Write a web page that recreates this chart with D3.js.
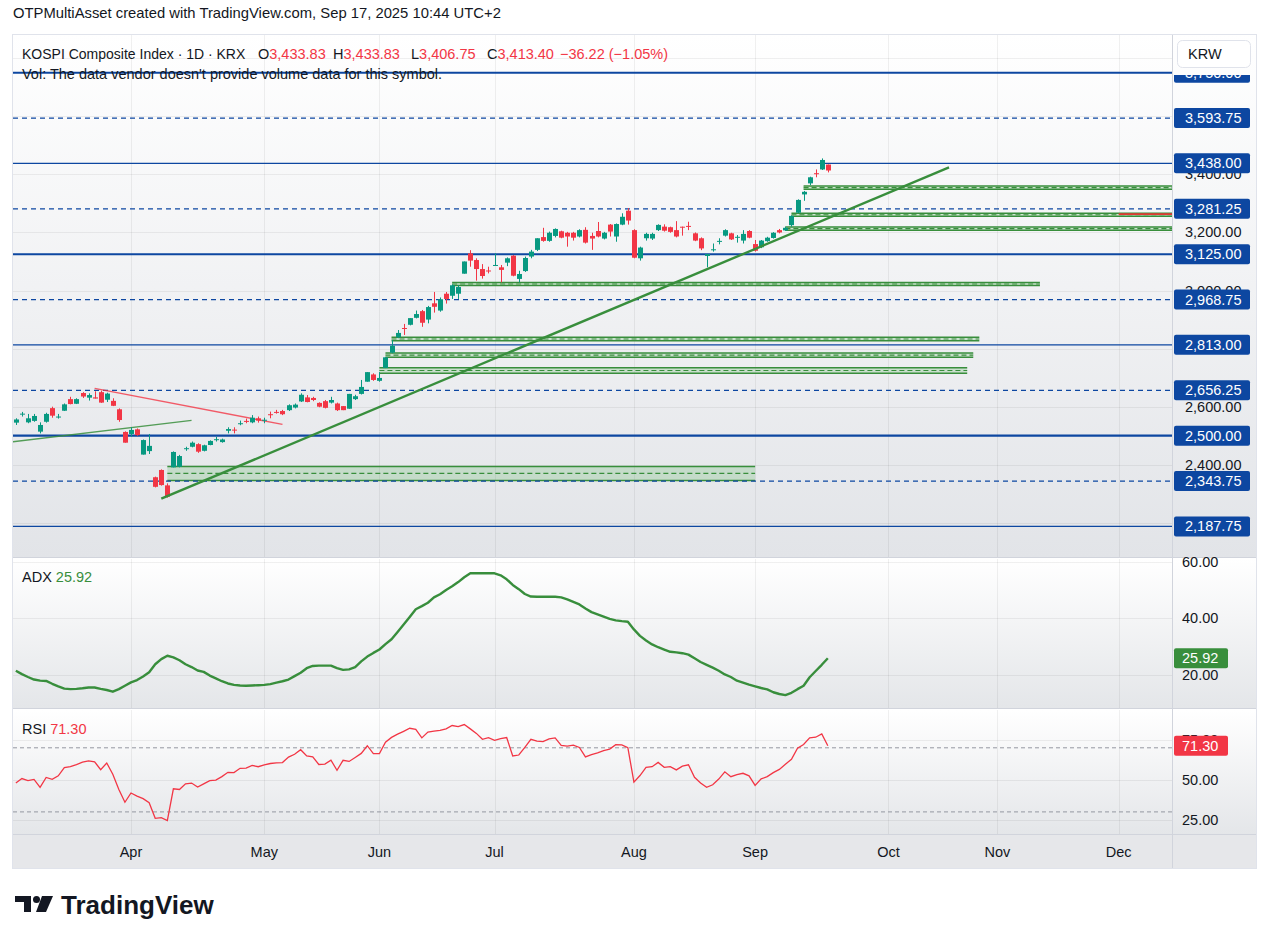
<!DOCTYPE html>
<html>
<head>
<meta charset="utf-8">
<script src="https://cdn.jsdelivr.net/npm/d3@7"></script>
<style>
  body { margin: 0; background: #fff; }
  svg { display: block; font-family: "Liberation Sans", Arial, sans-serif; }
</style>
</head>
<body>
<svg id="chart" width="1268" height="944"></svg>
<script>
// KOSPI daily bars, Mar 2025 -> Sep 17 2025 (bar index 0..134)
const opens = [2545,2575,2546,2551,2514,2548,2595,2565,2586,2626,2610,2647,2631,2632,2650,2624,2620,2591,2513,2506,
  2522,2435,2447,2357,2382,2329,2391,2393,2455,2462,2471,2448,2468,2486,2478,2517,2521,2541,2551,2546,
  2560,2553,2574,2582,2585,2588,2597,2618,2632,2630,2613,2619,2614,2611,2602,2593,2626,2644,2686,2711,
  2689,2733,2786,2839,2871,2882,2906,2929,2900,2956,2931,2989,2982,2989,3058,3128,3105,3074,3069,3086,
  3080,3096,3120,3040,3067,3117,3140,3184,3171,3188,3204,3199,3199,3186,3209,3188,3205,3179,3227,3186,
  3227,3275,3208,3111,3180,3179,3208,3220,3218,3208,3219.8,3222.5,3197,3180,3119,3141.5,3170,3189,3197,3183,
  3172,3205,3160,3149,3170,3181,3208,3207,3225,3268,3331,3369,3404,3417,3433.83];
const highs = [2560,2582,2575,2575,2546,2579,2600,2575,2611,2634,2629,2650,2646,2653,2655,2648,2629,2594,2515,2529,
  2525,2487,2506,2359,2384,2336,2446,2434,2462,2480,2474,2469,2484,2496,2490,2529,2529,2552,2559,2571,
  2566,2562,2583,2589,2589,2608,2611,2646,2640,2634,2615,2623,2634,2614,2602,2644,2641,2692,2719,2715,
  2719,2770,2829,2864,2885,2905,2931,2933,2947,2995,2976,2995,3021,3018,3100,3139,3111,3091,3082,3128,
  3088,3114,3122,3068,3117,3140,3180,3216,3203,3214,3206,3202,3202,3211,3218,3199,3236,3202,3229,3231,
  3266,3284,3211,3151,3199,3199,3228,3228,3220,3239,3220,3237,3200,3183,3126,3162,3180,3211,3199,3191,
  3208,3208,3174,3174,3185,3201,3212,3220,3259,3314,3343,3392,3417,3455,3433.83];
const lows = [2537,2566,2543,2548,2508,2545,2562,2559,2585,2608,2609,2630,2621,2628,2613,2616,2602,2548,2476,2497,
  2500,2435,2437,2322,2328,2287,2391,2391,2448,2460,2441,2446,2467,2480,2476,2508,2508,2536,2543,2543,
  2545,2543,2560,2576,2571,2585,2594,2616,2615,2619,2598,2594,2611,2585,2588,2593,2623,2642,2686,2689,
  2686,2733,2784,2836,2847,2880,2904,2875,2887,2924,2927,2955,2971,2971,3058,3082,3034,3041,3059,3086,
  3028,3084,3049,3028,3064,3111,3136,3168,3168,3183,3180,3151,3172,3183,3162,3140,3183,3176,3186,3168,
  3225,3227,3111,3103,3172,3174,3205,3203,3199,3183,3189,3208,3170,3139,3080,3134,3159,3186,3174,3165,
  3162,3180,3134,3146,3168,3179,3197,3205,3220,3266,3309,3363,3390,3415,3406.75];
const closes = [2556,2576,2560,2568,2537,2575,2569,2566,2608,2609,2626,2635,2640,2628,2614,2645,2603,2554,2476,2520,
  2502,2485,2465,2324,2330,2290,2444,2430,2457,2476,2445,2467,2482,2488,2487,2523,2519,2543,2549,2562,
  2552,2555,2572,2580,2574,2605,2607,2641,2616,2623,2600,2596,2623,2588,2588,2644,2636,2668,2719,2692,
  2699,2770,2810,2854,2868,2905,2919,2889,2943,2944,2970,2971,3018,3012,3100,3103,3074,3050,3067,3088,
  3071,3111,3051,3057,3112,3134,3180,3171,3199,3212,3182,3186,3182,3208,3165,3179,3186,3199,3203,3229,
  3254,3241,3113,3148,3195,3195,3226,3206,3202,3186,3219,3221.5,3172,3145,3125.5,3142,3171,3208,3176,3185,
  3195,3182,3137,3172,3182,3199,3200,3216,3257,3312,3340,3390,3403,3449.62,3413.40];

// ADX(14) and RSI(14), one value per bar
const adxValues = [21.5,20.3,19.3,18.4,18.0,17.9,16.9,16.0,15.2,15.0,15.1,15.3,15.6,15.6,15.1,14.7,14.1,15.0,16.2,17.4,
  18.2,19.5,21.0,23.8,25.6,26.8,26.2,25.2,23.8,22.8,21.6,21.1,19.8,18.8,17.8,17.0,16.5,16.3,16.2,16.3,
  16.4,16.5,16.8,17.3,17.8,18.4,19.6,20.8,22.4,23.2,23.3,23.3,23.3,22.4,21.8,22.0,22.8,24.8,26.5,27.8,
  29.0,30.9,32.6,35.2,37.8,40.5,43.2,44.3,45.5,47.4,48.5,50.0,51.3,52.8,54.5,55.9,55.9,55.9,55.9,55.9,
  55.2,53.8,51.8,50.3,48.6,47.7,47.6,47.6,47.6,47.6,47.4,46.7,45.8,44.9,43.5,42.2,41.4,40.6,39.8,39.3,
  39.0,38.8,36.1,33.8,32.2,30.8,29.8,29.0,28.2,28.0,27.7,27.2,25.9,24.6,23.6,22.6,21.5,20.2,19.3,18.0,
  17.3,16.6,16.0,15.4,14.9,13.9,13.3,12.9,13.7,15.0,16.2,19.2,21.4,23.6,25.92];
const rsiValues = [48.0,50.8,49.5,50.3,45.3,51.5,50.3,52.5,57.6,58.2,59.5,61.0,61.8,61.3,56.3,60.5,53.5,44.0,36.0,41.8,
  39.8,38.3,35.7,26.0,26.4,24.6,44.4,44.0,47.5,48.0,45.5,47.5,49.5,49.8,52.0,54.7,54.5,57.2,57.3,59.0,
  58.2,59.3,60.2,60.6,60.8,64.2,66.0,68.8,64.9,64.3,59.6,59.8,62.3,56.0,62.2,61.5,64.0,66.5,71.3,66.4,
  66.4,73.5,76.5,78.5,80.3,82.2,81.5,76.2,79.8,80.4,80.9,81.8,83.9,83.2,84.5,81.8,79.0,75.3,76.3,74.7,
  75.8,76.4,64.9,65.5,70.3,75.3,74.2,73.9,75.6,76.2,71.5,71.1,71.7,70.2,64.3,65.8,66.9,68.3,69.2,72.0,
  71.8,70.1,48.6,52.7,57.8,58.2,60.9,57.8,58.2,56.2,58.5,59.4,51.6,48.0,45.3,46.9,50.5,55.0,52.0,53.3,
  54.1,52.5,46.5,50.6,52.0,54.5,56.5,59.8,62.8,69.7,72.1,76.2,76.6,78.7,71.30];

// time axis
const monthLabels = ["Apr", "May", "Jun", "Jul", "Aug", "Sep", "Oct", "Nov", "Dec"];
const monthIndex = [19, 41, 60, 79, 102, 122, 144, 162, 182];

// price axis
const priceTicks = [2200, 2400, 2600, 2800, 3000, 3200, 3400, 3600, 3800];
const adxTicks = [20, 40, 60];
const rsiTicks = [25, 50, 75];
const rsiBands = [70, 30];

// drawn horizontal levels
const majorLevels = [3750, 3125, 2500];
const minorLevels = [3438, 2813, 2187.75];
const midLevels = [3593.75, 3281.25, 2968.75, 2656.25, 2343.75];

// support zones: start bar, end bar, low, high
const zoneStart = [25, 60, 61, 62, 72, 127, 128, 130];
const zoneEnd = [122, 157, 158, 159, 169, 191, 191, 191];
const zoneLow = [2346, 2715, 2770, 2827, 3017, 3208, 3256, 3349];
const zoneHigh = [2394, 2734, 2785, 2839, 3028, 3219, 3266, 3360];
const zoneMid = [2370, null, null, null, null, null, null, null];

// trend lines: [bar0, price0, bar1, price1]
const greenTrend = [24, 2283, 154, 3424];
const greenThin = [-0.5, 2479, 29, 2553];
const redTrend = [13, 2663, 44, 2539];
const redMark = [182, 3263, 191, 3263];

const lastAdx = 25.92, lastRsi = 71.30;

// ---------------------------------------------------------------
const svg = d3.select("#chart");
const L = 13, R = 1172, AX = 1256;
const P = { top: 35, bottom: 557 }, A = { top: 559, bottom: 708 }, S = { top: 710, bottom: 834 };
const T = { top: 834, bottom: 868 };

const green = "#089981", red = "#f23645", lvl = "#0d47a1", zoneCol = "#388e3c";
const txt = "#131722";

const x = d3.scaleLinear().domain([-0.47, 190.8]).range([L, R]);
const y = d3.scaleLinear().domain([2082.3, 3880]).range([P.bottom, P.top]);
const yAdx = d3.scaleLinear().domain([8.35, 60.95]).range([A.bottom, A.top]);
const yRsi = d3.scaleLinear().domain([16.2, 93.6]).range([S.bottom, S.top]);

const defs = svg.append("defs");
function grad(id, c0, c1) {
  const g = defs.append("linearGradient").attr("id", id).attr("x1", 0).attr("x2", 0).attr("y1", 0).attr("y2", 1);
  g.append("stop").attr("offset", 0).attr("stop-color", c0);
  g.append("stop").attr("offset", 1).attr("stop-color", c1);
}
grad("gP", "#ffffff", "#e2e4e8");
grad("gA", "#ffffff", "#e4e6e9");
grad("gS", "#ffffff", "#e4e6e9");
function clip(id, y0, y1) {
  defs.append("clipPath").attr("id", id).append("rect")
    .attr("x", L).attr("y", y0).attr("width", R - L).attr("height", y1 - y0);
}
clip("cP", P.top, P.bottom);
clip("cA", A.top, A.bottom);
clip("cS", S.top, S.bottom);
defs.append("clipPath").attr("id", "cLab").append("rect")
  .attr("x", R).attr("y", 75).attr("width", AX - R).attr("height", P.bottom - 75);

// header
svg.append("text").attr("x", 13).attr("y", 18).attr("font-size", 14.8).attr("fill", txt)
  .text("OTPMultiAsset created with TradingView.com, Sep 17, 2025 10:44 UTC+2");

// pane backgrounds
svg.append("rect").attr("x", L).attr("y", P.top).attr("width", AX - L).attr("height", P.bottom - P.top).attr("fill", "url(#gP)");
svg.append("rect").attr("x", L).attr("y", A.top).attr("width", AX - L).attr("height", A.bottom - A.top).attr("fill", "url(#gA)");
svg.append("rect").attr("x", L).attr("y", S.top).attr("width", AX - L).attr("height", S.bottom - S.top).attr("fill", "url(#gS)");
svg.append("rect").attr("x", L).attr("y", T.top).attr("width", AX - L).attr("height", T.bottom - T.top).attr("fill", "#e6e7ea");

// separators and frame
[[L, P.bottom + 0.5, AX, P.bottom + 0.5], [L, A.bottom + 0.5, AX, A.bottom + 0.5], [L, S.bottom + 0.5, AX, S.bottom + 0.5],
 [R + 0.5, P.top, R + 0.5, T.bottom]].forEach(s => {
  svg.append("line").attr("x1", s[0]).attr("y1", s[1]).attr("x2", s[2]).attr("y2", s[3])
    .attr("stroke", "#d1d4dc").attr("stroke-width", 1);
});
svg.append("rect").attr("x", L - 0.5).attr("y", P.top - 0.5).attr("width", AX - L + 1).attr("height", T.bottom - P.top + 1)
  .attr("fill", "none").attr("stroke", "#e0e3eb");

// grid
const grid = svg.append("g").attr("stroke", "#000").attr("stroke-opacity", 0.06);
monthIndex.forEach(i => {
  const gx = Math.round(x(i)) + 0.5;
  [[P.top, P.bottom], [A.top, A.bottom], [S.top, S.bottom]].forEach(r =>
    grid.append("line").attr("x1", gx).attr("x2", gx).attr("y1", r[0]).attr("y2", r[1]));
});
priceTicks.forEach(p => grid.append("line").attr("x1", L).attr("x2", R)
  .attr("y1", Math.round(y(p)) + 0.5).attr("y2", Math.round(y(p)) + 0.5));
adxTicks.forEach(v => grid.append("line").attr("x1", L).attr("x2", R)
  .attr("y1", Math.round(yAdx(v)) + 0.5).attr("y2", Math.round(yAdx(v)) + 0.5));
rsiTicks.forEach(v => grid.append("line").attr("x1", L).attr("x2", R)
  .attr("y1", Math.round(yRsi(v)) + 0.5).attr("y2", Math.round(yRsi(v)) + 0.5));

// ---------- price pane ----------
const gP = svg.append("g").attr("clip-path", "url(#cP)");

// zones
zoneStart.forEach((s, k) => {
  const x0 = x(s), x1 = x(zoneEnd[k]);
  const yt = y(zoneHigh[k]), yb = y(zoneLow[k]);
  gP.append("rect").attr("x", x0).attr("y", yt).attr("width", x1 - x0).attr("height", yb - yt)
    .attr("fill", "#4caf50").attr("fill-opacity", 0.22);
  [yt, yb].forEach(yy => gP.append("line").attr("x1", x0).attr("x2", x1).attr("y1", yy).attr("y2", yy)
    .attr("stroke", zoneCol).attr("stroke-width", 1.5));
  const ym = zoneMid[k] !== null ? y(zoneMid[k]) : (yt + yb) / 2;
  gP.append("line").attr("x1", x0).attr("x2", x1).attr("y1", ym).attr("y2", ym)
    .attr("stroke", zoneCol).attr("stroke-width", 1.2).attr("stroke-dasharray", "5,3");
});
gP.append("line").attr("x1", x(redMark[0])).attr("x2", x(redMark[2])).attr("y1", y(redMark[1])).attr("y2", y(redMark[3]))
  .attr("stroke", "#e53935").attr("stroke-width", 1.8);

// horizontal levels
majorLevels.forEach(p => gP.append("line").attr("x1", L).attr("x2", R).attr("y1", y(p)).attr("y2", y(p))
  .attr("stroke", lvl).attr("stroke-width", 2.2));
minorLevels.forEach(p => gP.append("line").attr("x1", L).attr("x2", R).attr("y1", y(p)).attr("y2", y(p))
  .attr("stroke", lvl).attr("stroke-width", 1.2));
midLevels.forEach(p => gP.append("line").attr("x1", L).attr("x2", R).attr("y1", y(p)).attr("y2", y(p))
  .attr("stroke", lvl).attr("stroke-width", 1.2).attr("stroke-dasharray", "5,4"));

// trend lines
function seg(t, color, w, op) {
  gP.append("line").attr("x1", x(t[0])).attr("y1", y(t[1])).attr("x2", x(t[2])).attr("y2", y(t[3]))
    .attr("stroke", color).attr("stroke-width", w).attr("stroke-opacity", op);
}
seg(greenThin, "#388e3c", 1.4, 0.85);
seg(redTrend, "#f23645", 1.4, 0.8);

// candles
const idx = d3.range(closes.length);
const cg = gP.append("g").selectAll("g").data(idx).join("g")
  .attr("fill", i => closes[i] >= opens[i] ? green : red)
  .attr("stroke", i => closes[i] >= opens[i] ? green : red);
cg.append("line")
  .attr("x1", i => Math.round(x(i)) + 0.5).attr("x2", i => Math.round(x(i)) + 0.5)
  .attr("y1", i => y(highs[i])).attr("y2", i => y(lows[i])).attr("stroke-width", 1);
cg.append("rect")
  .attr("x", i => Math.round(x(i)) - 2).attr("width", 5)
  .attr("y", i => y(Math.max(opens[i], closes[i])))
  .attr("height", i => Math.max(1, Math.abs(y(opens[i]) - y(closes[i]))))
  .attr("stroke", "none");

seg(greenTrend, "#388e3c", 2.4, 1);

// legend
const fmt = d3.format(",.2f");
const legY = 59;
svg.append("text").attr("x", 22).attr("y", legY).attr("font-size", 14).attr("fill", txt)
  .text("KOSPI Composite Index · 1D · KRX");
[["O", opens[134], 258], ["H", highs[134], 333], ["L", lows[134], 411], ["C", closes[134], 487]].forEach(d => {
  const t = svg.append("text").attr("x", d[2]).attr("y", legY).attr("font-size", 14.5).attr("fill", txt);
  t.append("tspan").text(d[0]);
  t.append("tspan").attr("fill", red).text(fmt(d[1]));
});
const chg = closes[134] - closes[133];
svg.append("text").attr("x", 560).attr("y", legY).attr("font-size", 14.5).attr("fill", red)
  .text(fmt(chg).replace("-", "−") + " (" + d3.format(".2f")(chg / closes[133] * 100).replace("-", "−") + "%)");
svg.append("text").attr("x", 22).attr("y", 79).attr("font-size", 14.5).attr("fill", txt)
  .text("Vol: The data vendor doesn't provide volume data for this symbol.");

// price axis
const levelsAll = majorLevels.concat(minorLevels, midLevels);
const axG = svg.append("g").attr("clip-path", "url(#cLab)");
priceTicks
  .filter(p => d3.min(levelsAll, q => Math.abs(y(p) - y(q))) > 5)
  .forEach(p => axG.append("text").attr("x", 1185).attr("y", y(p) + 5).attr("font-size", 14.5)
    .attr("fill", txt).text(fmt(p)));
levelsAll.forEach(p => {
  axG.append("rect").attr("x", 1174).attr("y", y(p) - 10).attr("width", 76).attr("height", 20).attr("rx", 2)
    .attr("fill", lvl);
  axG.append("text").attr("x", 1185).attr("y", y(p) + 5).attr("font-size", 14.5).attr("fill", "#fff").text(fmt(p));
});
svg.append("rect").attr("x", 1177.5).attr("y", 40.5).attr("width", 73).attr("height", 27).attr("rx", 5)
  .attr("fill", "#fff").attr("stroke", "#e0e3eb");
svg.append("text").attr("x", 1188).attr("y", 59).attr("font-size", 14.5).attr("fill", txt).text("KRW");

// ---------- ADX pane ----------
const gA = svg.append("g").attr("clip-path", "url(#cA)");
gA.append("path").datum(adxValues)
  .attr("d", d3.line().x((v, i) => x(i)).y(v => yAdx(v)))
  .attr("fill", "none").attr("stroke", "#388e3c").attr("stroke-width", 2.4).attr("stroke-linejoin", "round");
const at = svg.append("text").attr("x", 22).attr("y", 582).attr("font-size", 14.5).attr("fill", txt);
at.append("tspan").text("ADX ");
at.append("tspan").attr("fill", "#388e3c").text(lastAdx.toFixed(2));
adxTicks.forEach(v => svg.append("text").attr("x", 1182).attr("y", yAdx(v) + 5).attr("font-size", 14.5)
  .attr("fill", txt).text(v.toFixed(2)));
svg.append("rect").attr("x", 1174).attr("y", yAdx(lastAdx) - 10).attr("width", 54).attr("height", 20).attr("rx", 2)
  .attr("fill", "#388e3c");
svg.append("text").attr("x", 1182).attr("y", yAdx(lastAdx) + 5).attr("font-size", 14.5).attr("fill", "#fff")
  .text(lastAdx.toFixed(2));

// ---------- RSI pane ----------
const gS = svg.append("g").attr("clip-path", "url(#cS)");
rsiBands.forEach(v => gS.append("line").attr("x1", L).attr("x2", R).attr("y1", yRsi(v)).attr("y2", yRsi(v))
  .attr("stroke", "#9598a1").attr("stroke-width", 1).attr("stroke-dasharray", "4,3"));
gS.append("path").datum(rsiValues)
  .attr("d", d3.line().x((v, i) => x(i)).y(v => yRsi(v)))
  .attr("fill", "none").attr("stroke", red).attr("stroke-width", 1.3);
const rt = svg.append("text").attr("x", 22).attr("y", 734).attr("font-size", 14.5).attr("fill", txt);
rt.append("tspan").text("RSI ");
rt.append("tspan").attr("fill", red).text(lastRsi.toFixed(2));
rsiTicks.forEach(v => svg.append("text").attr("x", 1182).attr("y", yRsi(v) + 5).attr("font-size", 14.5)
  .attr("fill", txt).text(v.toFixed(2)));
svg.append("rect").attr("x", 1174).attr("y", yRsi(lastRsi) - 10).attr("width", 54).attr("height", 20).attr("rx", 2)
  .attr("fill", red);
svg.append("text").attr("x", 1182).attr("y", yRsi(lastRsi) + 5).attr("font-size", 14.5).attr("fill", "#fff")
  .text(lastRsi.toFixed(2));

// ---------- time axis ----------
monthLabels.forEach((m, k) => svg.append("text").attr("x", x(monthIndex[k])).attr("y", 857)
  .attr("text-anchor", "middle").attr("font-size", 14.5).attr("fill", txt).text(m));

// ---------- logo ----------
const logo = svg.append("g").attr("fill", txt);
logo.append("path").attr("d", "M15,896 H31 V912 H24 V902 H15 Z");
logo.append("circle").attr("cx", 36.5).attr("cy", 899.5).attr("r", 3.5);
logo.append("path").attr("d", "M42,896 H53 L46,912 H36 Z");
svg.append("text").attr("x", 61).attr("y", 914).attr("font-size", 26).attr("font-weight", "bold")
  .attr("fill", txt).text("TradingView");
</script>
</body>
</html>
